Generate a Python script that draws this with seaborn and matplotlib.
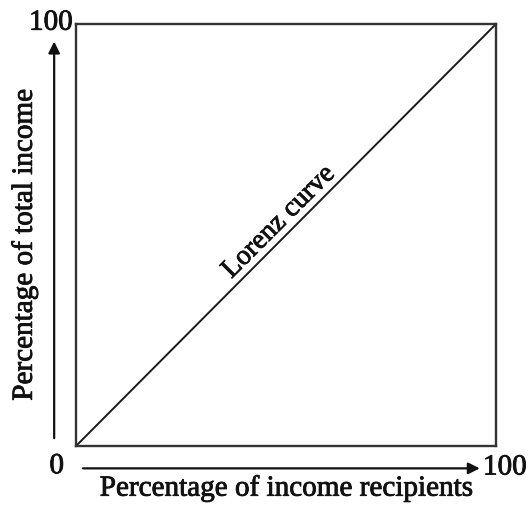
import matplotlib
matplotlib.use("Agg")
import matplotlib.pyplot as plt
import matplotlib.patheffects as pe
import seaborn as sns
import pandas as pd

# Data
recipients_pct = [0, 100]
income_pct = [0, 100]
curve_label = "Lorenz curve"
x_label = "Percentage of income recipients"
y_label = "Percentage of total income"
tick_zero = "0"
tick_max = "100"

sns.set_theme(style="white")
plt.rcParams["font.family"] = ["Liberation Serif", "DejaVu Serif"]

df = pd.DataFrame({"recipients": recipients_pct, "income": income_pct})

fig = plt.figure(figsize=(5.31, 5.08), dpi=100)
ax = fig.add_axes([76 / 531, 1 - 446 / 508, 420 / 531, 422 / 508])
sns.lineplot(data=df, x="recipients", y="income", ax=ax, color="#1a1a1a", linewidth=1.4)
ax.set_xlim(0, 100)
ax.set_ylim(0, 100)
ax.set_xticks([])
ax.set_yticks([])
ax.set_xlabel("")
ax.set_ylabel("")
for s in ax.spines.values():
    s.set_color("#333333")
    s.set_linewidth(1.7)

fs = 21
thick = [pe.withStroke(linewidth=0.6, foreground="#111111")]
tk = dict(color="#111111", path_effects=thick, clip_on=False)

# Lorenz curve label along the diagonal
ax.text(48.3, 53.0, curve_label, rotation=45, rotation_mode="anchor",
        ha="center", va="center", fontsize=20, **tk)

# Axis arrows
ax.annotate("", xy=(96.8, -5.3), xytext=(1.0, -5.3), xycoords="data",
            arrowprops=dict(arrowstyle="-|>", color="#111111", lw=1.6,
                            mutation_scale=17), annotation_clip=False)
ax.annotate("", xy=(-5.2, 96.5), xytext=(-5.2, 1.2), xycoords="data",
            arrowprops=dict(arrowstyle="-|>", color="#111111", lw=1.6,
                            mutation_scale=17), annotation_clip=False)

# Tick-like labels
ax.text(-4.6, -4.8, tick_zero, ha="center", va="center", fontsize=fs, **tk)
ax.text(-0.8, 100.3, tick_max, ha="right", va="center", fontsize=fs, **tk)
ax.text(96.9, -5.1, tick_max, ha="left", va="center", fontsize=fs, **tk)

# Axis titles
ax.text(50, -10.0, x_label, ha="center", va="center", fontsize=fs, **tk)
ax.text(-12.3, 47.6, y_label, ha="center", va="center", rotation=90, fontsize=fs, **tk)

fig.savefig("out.png", dpi=100, facecolor="white")
